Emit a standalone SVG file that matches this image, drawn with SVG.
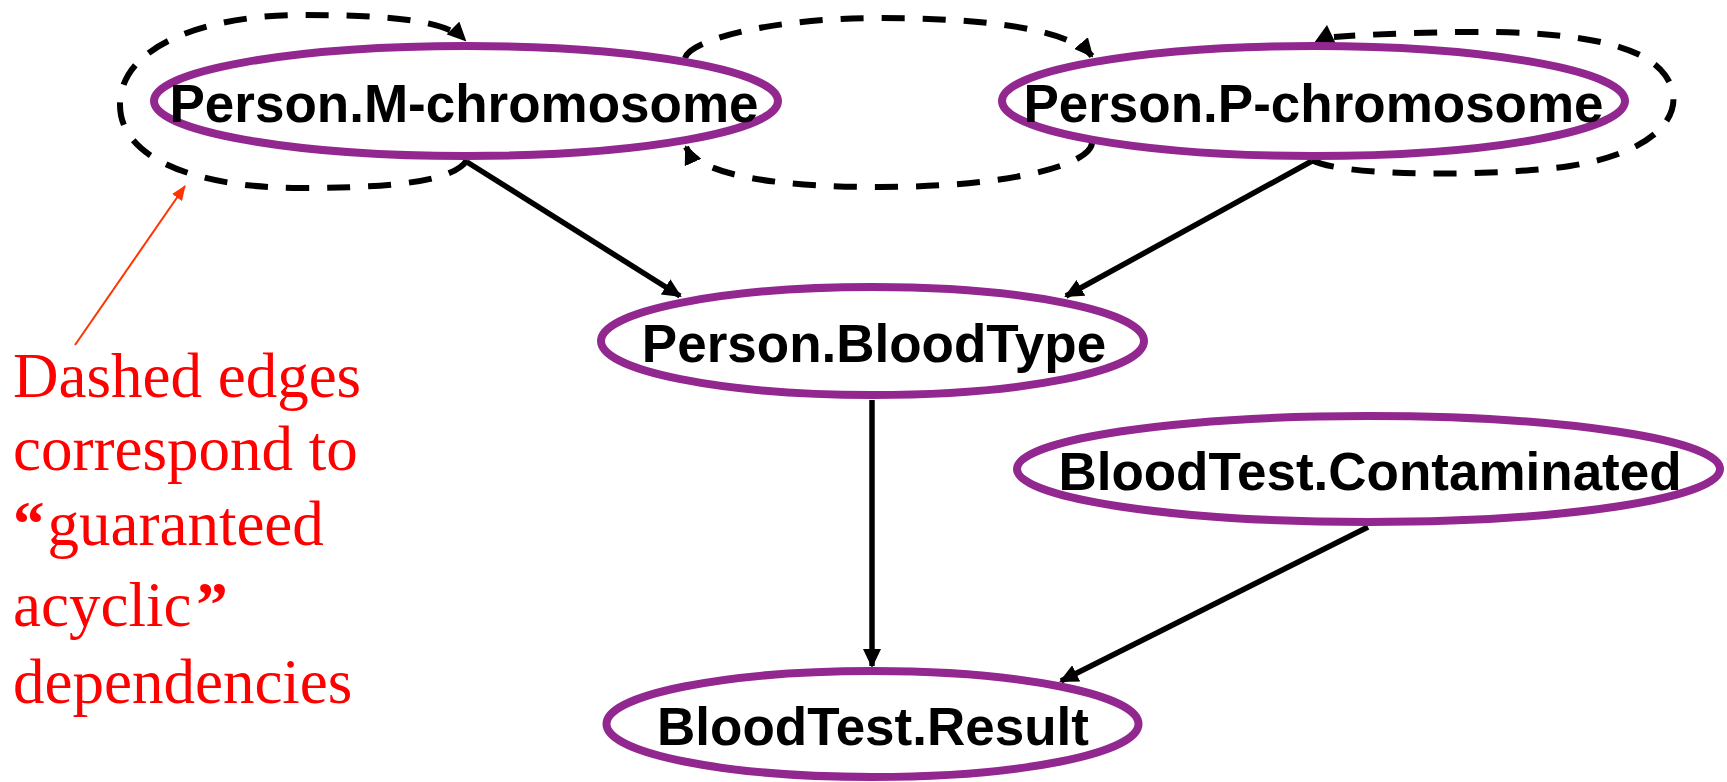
<svg xmlns="http://www.w3.org/2000/svg" width="1727" height="782" viewBox="0 0 1727 782">
  <defs>
    <marker id="arr" markerUnits="userSpaceOnUse" markerWidth="19" markerHeight="18" refX="17" refY="9" orient="auto">
      <path d="M0,0 L19,9 L0,18 z" fill="#000"/>
    </marker>
    <marker id="arrRed" markerUnits="userSpaceOnUse" markerWidth="15" markerHeight="12" refX="14" refY="6" orient="auto">
      <path d="M0,0 L15,6 L0,12 z" fill="#ff3300"/>
    </marker>
    <style>
      .node { fill: #fff; stroke: #92278f; stroke-width: 8; }
      .label { font-family: "Liberation Sans", Arial, sans-serif; font-weight: bold; font-size: 53px; fill: #000; text-anchor: middle; }
      .solid { fill: none; stroke: #000; stroke-width: 5.5; marker-end: url(#arr); }
      .dash { fill: none; stroke: #000; stroke-width: 6; stroke-dasharray: 23 18; marker-end: url(#arr); }
      .note { font-family: "Liberation Serif", "Times New Roman", serif; font-size: 63px; fill: #ff0000; }
      .quote { font-weight: bold; }
    </style>
  </defs>

  <rect width="1727" height="782" fill="#fff"/>

  <!-- dependency edges -->
  <g id="connectors">
    <!-- self loop on M-chromosome -->
    <path class="dash" d="M467,160 C455,180 400,188 300,188 C200,188 120,160 120,105 C120,40 220,15 300,15 C390,15 445,20 465,40"/>
    <!-- M-chromosome to P-chromosome -->
    <path class="dash" d="M685,58 C690,40 770,18 880,18 C990,18 1070,30 1092,56"/>
    <!-- P-chromosome to M-chromosome -->
    <path class="dash" d="M1092,143 C1090,165 1010,187 880,187 C790,187 700,178 686,147"/>
    <!-- self loop on P-chromosome -->
    <path class="dash" style="marker-end:none" d="M1312,160 C1345,178 1500,176 1570,166 C1660,152 1690,110 1665,75 C1640,40 1560,31 1460,32 C1400,33 1360,35 1334,37"/>
    <polygon points="1314,43 1327,25 1336,44" fill="#000"/>

    <path class="solid" d="M467,162 L680,296"/>
    <path class="solid" d="M1312,161 L1066,296"/>
    <path class="solid" d="M872,400 L872,666"/>
    <path class="solid" d="M1368,527 L1061,681"/>
  </g>

  <g id="node-m-chromosome">
    <ellipse class="node" cx="466" cy="101" rx="312" ry="55"/>
    <text class="label" x="464" y="122">Person.M-chromosome</text>
  </g>

  <g id="node-p-chromosome">
    <ellipse class="node" cx="1313.5" cy="101" rx="311.5" ry="55"/>
    <text class="label" x="1313.5" y="122">Person.P-chromosome</text>
  </g>

  <g id="node-bloodtype">
    <ellipse class="node" cx="872.5" cy="341" rx="271.5" ry="54"/>
    <text class="label" x="874" y="362">Person.BloodType</text>
  </g>

  <g id="node-contaminated">
    <ellipse class="node" cx="1368.5" cy="469" rx="351.5" ry="53"/>
    <text class="label" x="1370" y="490">BloodTest.Contaminated</text>
  </g>

  <g id="node-result">
    <ellipse class="node" cx="872.5" cy="724" rx="266" ry="53"/>
    <text class="label" x="873" y="745">BloodTest.Result</text>
  </g>

  <!-- annotation -->
  <g id="annotation">
    <path d="M75,345 L185,186" fill="none" stroke="#ff3300" stroke-width="2" marker-end="url(#arrRed)"/>
    <text class="note">
      <tspan x="13" y="397">Dashed edges</tspan>
      <tspan x="13" y="470">correspond to</tspan>
      <tspan x="13" y="545"><tspan class="quote">“</tspan><tspan dx="3">guaranteed</tspan></tspan>
      <tspan x="13" y="626">acyclic<tspan class="quote" dx="5">”</tspan></tspan>
      <tspan x="13" y="703">dependencies</tspan>
    </text>
  </g>
</svg>
